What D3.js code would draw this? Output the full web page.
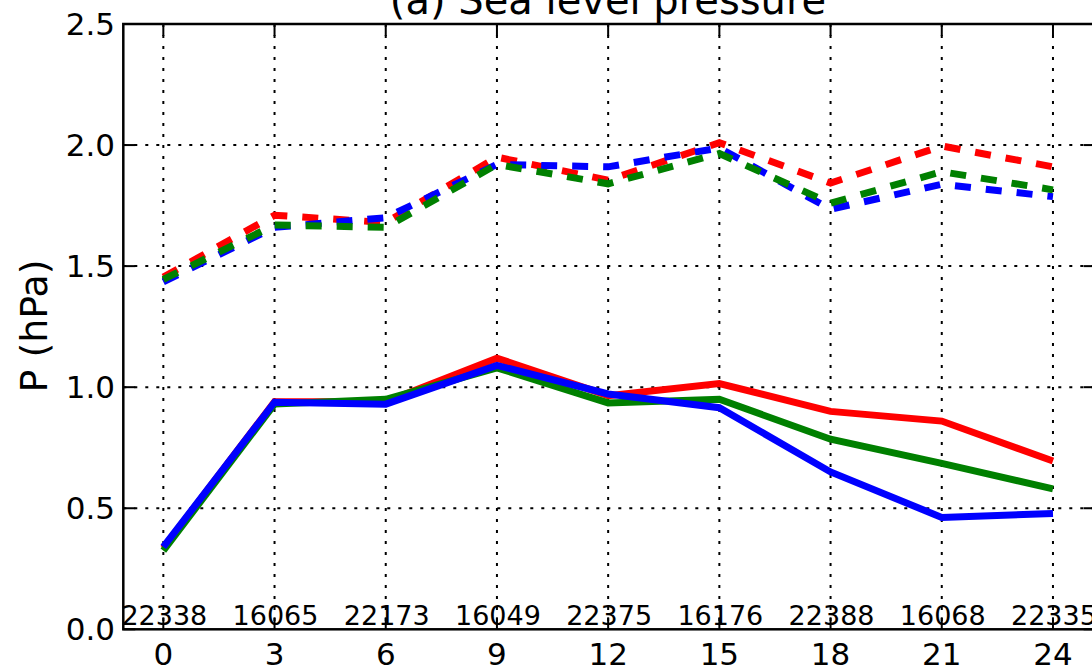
<!DOCTYPE html>
<html lang="en">
<head>
  <meta charset="UTF-8" />
  <title>(a) Sea level pressure</title>
  <style>
    html, body { margin: 0; padding: 0; background: #fff; overflow: hidden; }
    svg { display: block; font-family: "DejaVu Sans", sans-serif; }
    .grid line { stroke: #000; stroke-width: 2; stroke-dasharray: 3,8; }
    .spine { fill: none; stroke: #000; stroke-width: 2.5; }
    .series { fill: none; stroke-width: 7; stroke-linejoin: miter; }
  </style>
</head>
<body>
  <svg width="1092" height="669"></svg>

  <script src="https://d3js.org/d3.v7.min.js"></script>
  <script>
    // forecast hours and sample counts
    const hours = [0, 3, 6, 9, 12, 15, 18, 21, 24];
    const counts = ["22338", "16065", "22173", "16049", "22375", "16176", "22388", "16068", "22335"];

    // solid lines
    const redSolid   = [0.335, 0.94, 0.94, 1.12, 0.965, 1.015, 0.90, 0.86, 0.695];
    const greenSolid = [0.325, 0.93, 0.95, 1.08, 0.935, 0.95, 0.785, 0.685, 0.58];
    const blueSolid  = [0.34, 0.938, 0.93, 1.09, 0.972, 0.915, 0.65, 0.462, 0.478];

    // dashed lines
    const redDashed   = [1.455, 1.71, 1.68, 1.95, 1.855, 2.01, 1.843, 1.996, 1.91];
    const greenDashed = [1.445, 1.67, 1.66, 1.92, 1.84, 1.965, 1.76, 1.89, 1.815];
    const blueDashed  = [1.435, 1.66, 1.70, 1.92, 1.91, 1.988, 1.735, 1.838, 1.787];

    const yTicks = [0, 0.5, 1.0, 1.5, 2.0, 2.5];

    // the right spine sits just past the page edge in the original
    const x = d3.scaleLinear().domain([-1.08, 25.15]).range([123.3, 1095.6]);
    const y = d3.scaleLinear().domain([0, 2.5]).range([629.3, 24]);
    const [axL, axR] = x.range();
    const [axB, axT] = y.range();

    const svg = d3.select("svg");

    // grid
    const grid = svg.append("g").attr("class", "grid");
    grid.selectAll(".gx")
      .data(hours)
      .join("line")
      .attr("class", "gx")
      .attr("x1", d => x(d)).attr("x2", d => x(d))
      .attr("y1", axT).attr("y2", axB);
    grid.selectAll(".gy")
      .data(yTicks.slice(1, -1))
      .join("line")
      .attr("class", "gy")
      .attr("x1", axL).attr("x2", axR)
      .attr("y1", d => y(d)).attr("y2", d => y(d));

    // series
    const line = d3.line().x((d, i) => x(hours[i])).y(d => y(d));
    const series = [
      { v: redSolid, c: "#ff0000", dash: null },
      { v: greenSolid, c: "#008000", dash: null },
      { v: blueSolid, c: "#0000ff", dash: null },
      { v: redDashed, c: "#ff0000", dash: "16,15" },
      { v: blueDashed, c: "#0000ff", dash: "16,15" },
      { v: greenDashed, c: "#008000", dash: "16,15" }
    ];
    svg.selectAll(".series")
      .data(series)
      .join("path")
      .attr("class", "series")
      .attr("stroke", d => d.c)
      .attr("stroke-dasharray", d => d.dash)
      .attr("d", d => line(d.v));

    // sample counts
    svg.selectAll(".count")
      .data(hours)
      .join("text")
      .attr("class", "count")
      .attr("x", d => x(d) + 1)
      .attr("y", 625)
      .attr("text-anchor", "middle")
      .attr("font-size", 27)
      .text((d, i) => counts[i]);

    // ticks (inward, on all sides)
    const ticks = svg.append("g");
    hours.forEach(h => {
      ticks.append("line")
        .attr("x1", x(h)).attr("x2", x(h)).attr("y1", axB).attr("y2", axB - 12);
      ticks.append("line")
        .attr("x1", x(h)).attr("x2", x(h)).attr("y1", axT).attr("y2", axT + 12);
    });
    yTicks.forEach(t => {
      ticks.append("line")
        .attr("x1", axL).attr("x2", axL + 12).attr("y1", y(t)).attr("y2", y(t));
      ticks.append("line")
        .attr("x1", axR).attr("x2", axR - 12).attr("y1", y(t)).attr("y2", y(t));
    });
    ticks.selectAll("line").attr("stroke", "#000").attr("stroke-width", 2);

    // spines
    svg.append("rect").attr("class", "spine")
      .attr("x", axL).attr("y", axT)
      .attr("width", axR - axL).attr("height", axB - axT);

    // tick labels
    svg.selectAll(".xl")
      .data(hours)
      .join("text")
      .attr("class", "xl")
      .attr("x", d => x(d))
      .attr("y", 665)
      .attr("text-anchor", "middle")
      .attr("font-size", 31)
      .text(d => d);

    svg.selectAll(".yl")
      .data(yTicks)
      .join("text")
      .attr("class", "yl")
      .attr("x", 115)
      .attr("y", d => y(d))
      .attr("dy", "0.36em")
      .attr("text-anchor", "end")
      .attr("font-size", 31)
      .text(d => d3.format(".1f")(d));

    // axis label and title
    svg.append("text")
      .attr("transform", "translate(47,326) rotate(-90)")
      .attr("text-anchor", "middle")
      .attr("font-size", 38)
      .text("P (hPa)");

    svg.append("text")
      .attr("x", 608)
      .attr("y", 14)
      .attr("text-anchor", "middle")
      .attr("font-size", 40)
      .text("(a) Sea level pressure");
  </script>
</body>
</html>
